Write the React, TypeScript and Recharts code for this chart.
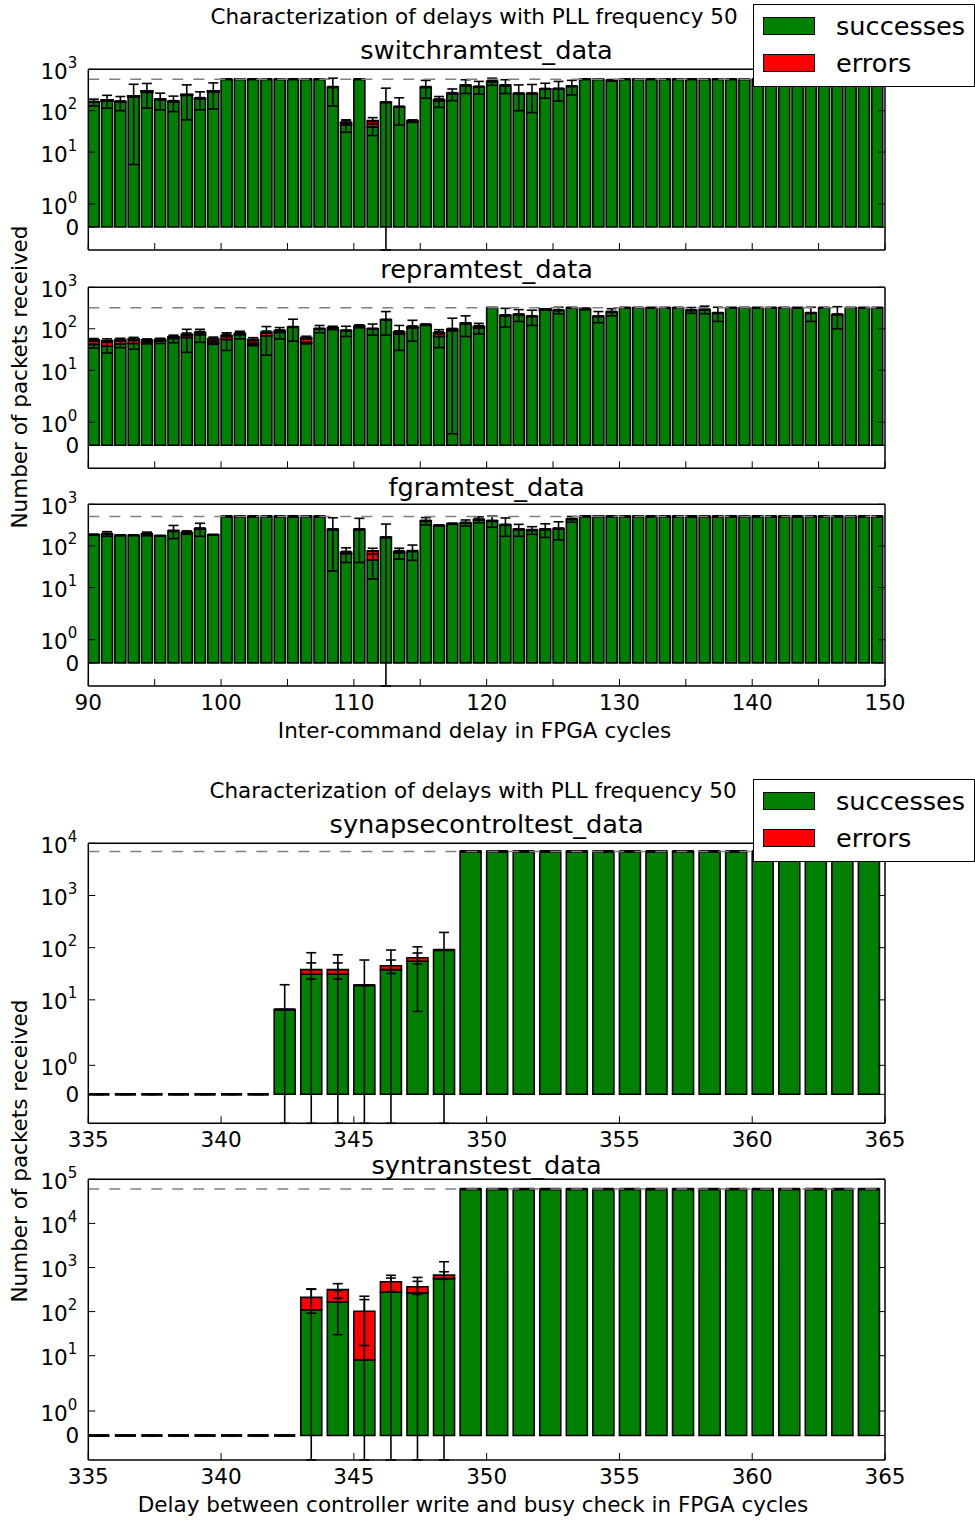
import React from 'react';
import { BarChart, Bar, XAxis, YAxis, ErrorBar, ReferenceLine, Legend } from 'recharts';

const FONT = '"DejaVu Sans", sans-serif';

// delays in FPGA cycles
const delaysTop = [
  90, 91, 92, 93, 94, 95, 96, 97, 98, 99,
  100, 101, 102, 103, 104, 105, 106, 107, 108, 109,
  110, 111, 112, 113, 114, 115, 116, 117, 118, 119,
  120, 121, 122, 123, 124, 125, 126, 127, 128, 129,
  130, 131, 132, 133, 134, 135, 136, 137, 138, 139,
  140, 141, 142, 143, 144, 145, 146, 147, 148, 149,
];
const delaysBottom = [
  335, 336, 337, 338, 339, 340, 341, 342, 343, 344,
  345, 346, 347, 348, 349, 350, 351, 352, 353, 354,
  355, 356, 357, 358, 359, 360, 361, 362, 363, 364,
];

// switchramtest_data
const switchSucc = [
  160, 175, 160, 220, 285, 185, 160, 240, 195, 290,
  576, 576, 576, 576, 576, 576, 576, 576, 370, 45,
  576, 40, 160, 125, 55, 370, 170, 255, 410, 380,
  510, 410, 260, 260, 330, 340, 390, 576, 576, 540,
  576, 576, 576, 576, 576, 576, 576, 576, 576, 576,
  576, 576, 576, 576, 576, 576, 576, 576, 576, 576,
];
const switchErr = [
  5, 4, 8, 3, 8, 6, 10, 3, 8, 4,
  0, 0, 0, 0, 0, 0, 0, 0, 0, 8,
  0, 18, 0, 0, 3, 0, 15, 12, 0, 0,
  0, 0, 0, 0, 10, 0, 0, 0, 0, 0,
  0, 0, 0, 0, 0, 0, 0, 0, 0, 0,
  0, 0, 0, 0, 0, 0, 0, 0, 0, 0,
];
const switchSuccStd = [
  30, 60, 60, 215, 170, 80, 65, 180, 90, 180,
  0, 0, 0, 0, 0, 0, 0, 0, 240, 15,
  0, 15, 190, 80, 3, 170, 50, 80, 150, 130,
  100, 150, 160, 170, 130, 170, 150, 0, 0, 25,
  0, 0, 0, 0, 0, 0, 0, 0, 0, 0,
  0, 0, 0, 0, 0, 0, 0, 0, 0, 0,
];
const switchErrStd = [
  3, 3, 4, 2, 4, 3, 5, 2, 4, 2,
  0, 0, 0, 0, 0, 0, 0, 0, 0, 5,
  0, 10, 0, 0, 2, 0, 8, 6, 0, 0,
  0, 0, 0, 0, 5, 0, 0, 0, 0, 0,
  0, 0, 0, 0, 0, 0, 0, 0, 0, 0,
  0, 0, 0, 0, 0, 0, 0, 0, 0, 0,
];

// repramtest_data
const repSucc = [
  42, 38, 43, 44, 48, 50, 58, 62, 72, 45,
  55, 72, 42, 68, 82, 110, 45, 100, 105, 90,
  115, 100, 165, 75, 105, 125, 65, 90, 135, 105,
  320, 210, 220, 200, 290, 280, 320, 300, 200, 255,
  320, 320, 320, 320, 320, 280, 290, 240, 320, 320,
  320, 320, 320, 320, 240, 320, 220, 320, 320, 320,
];
const repErr = [
  12, 14, 12, 13, 6, 6, 6, 12, 10, 13,
  14, 6, 14, 15, 8, 0, 16, 0, 0, 0,
  0, 0, 0, 10, 8, 0, 15, 8, 0, 10,
  0, 0, 0, 0, 5, 0, 0, 0, 0, 0,
  0, 0, 0, 0, 0, 0, 0, 0, 0, 0,
  0, 0, 0, 0, 0, 0, 0, 0, 0, 0,
];
const repSuccStd = [
  8, 12, 8, 12, 5, 6, 12, 35, 25, 3,
  25, 15, 3, 45, 25, 60, 2, 20, 10, 25,
  10, 30, 95, 45, 55, 5, 30, 89.5, 70, 30,
  0, 100, 70, 80, 10, 50, 0, 15, 60, 50,
  0, 0, 0, 0, 0, 45, 60, 90, 0, 0,
  0, 0, 0, 0, 90, 0, 120, 0, 0, 0,
];
const repErrStd = [
  4, 5, 4, 5, 3, 3, 3, 5, 4, 5,
  5, 3, 5, 5, 4, 0, 5, 0, 0, 0,
  0, 0, 0, 4, 4, 0, 5, 4, 0, 4,
  0, 0, 0, 0, 3, 0, 0, 0, 0, 0,
  0, 0, 0, 0, 0, 0, 0, 0, 0, 0,
  0, 0, 0, 0, 0, 0, 0, 0, 0, 0,
];

// fgramtest_data
const fgSucc = [
  185, 195, 180, 180, 195, 175, 230, 210, 260, 185,
  512, 512, 512, 512, 512, 512, 512, 512, 250, 65,
  250, 46, 160, 68, 75, 400, 310, 340, 360, 430,
  400, 320, 250, 240, 250, 260, 440, 512, 512, 512,
  512, 512, 512, 512, 512, 512, 512, 512, 512, 512,
  512, 512, 512, 512, 512, 512, 512, 512, 512, 512,
];
const fgErr = [
  0, 0, 0, 0, 0, 0, 0, 0, 0, 0,
  0, 0, 0, 0, 0, 0, 0, 0, 0, 6,
  0, 30, 0, 6, 0, 0, 0, 0, 0, 0,
  0, 0, 0, 0, 0, 0, 0, 0, 0, 0,
  0, 0, 0, 0, 0, 0, 0, 0, 0, 0,
  0, 0, 0, 0, 0, 0, 0, 0, 0, 0,
];
const fgSuccStd = [
  5, 25, 0, 0, 20, 0, 80, 20, 90, 0,
  0, 0, 0, 0, 0, 0, 0, 0, 225, 25,
  210, 30, 175, 20, 30, 80, 0, 10, 60, 70,
  120, 150, 80, 50, 90, 120, 70, 0, 0, 0,
  0, 0, 0, 0, 0, 0, 0, 0, 0, 0,
  0, 0, 0, 0, 0, 0, 0, 0, 0, 0,
];
const fgErrStd = [
  0, 0, 0, 0, 0, 0, 0, 0, 0, 0,
  0, 0, 0, 0, 0, 0, 0, 0, 0, 3,
  0, 12, 0, 3, 0, 0, 0, 0, 0, 0,
  0, 0, 0, 0, 0, 0, 0, 0, 0, 0,
  0, 0, 0, 0, 0, 0, 0, 0, 0, 0,
  0, 0, 0, 0, 0, 0, 0, 0, 0, 0,
];

// synapsecontroltest_data
const synSucc = [0, 0, 0, 0, 0, 0, 0, 6.5, 31, 31, 19, 38, 55, 90, 7000, 7000, 7000, 7000, 7000, 7000, 7000, 7000, 7000, 7000, 7000, 7000, 7000, 7000, 7000, 7000];
const synErr = [0, 0, 0, 0, 0, 0, 0, 0, 7, 7, 0, 7, 9, 0, 0, 0, 0, 0, 0, 0, 0, 0, 0, 0, 0, 0, 0, 0, 0, 0];
const synSuccStd = [0, 0, 0, 0, 0, 0, 0, 13, 49, 42, 39, 52, 49, 106, 0, 0, 0, 0, 0, 0, 0, 0, 0, 0, 0, 0, 0, 0, 0, 0];
const synErrStd = [0, 0, 0, 0, 0, 0, 0, 0, 13, 13, 0, 13, 15, 0, 0, 0, 0, 0, 0, 0, 0, 0, 0, 0, 0, 0, 0, 0, 0, 0];

// syntranstest_data
const transSucc = [0, 0, 0, 0, 0, 0, 0, 0, 110, 165, 8, 275, 265, 560, 60000, 60000, 60000, 60000, 60000, 60000, 60000, 60000, 60000, 60000, 60000, 60000, 60000, 60000, 60000, 60000];
const transErr = [0, 0, 0, 0, 0, 0, 0, 0, 100, 150, 94, 200, 100, 110, 0, 0, 0, 0, 0, 0, 0, 0, 0, 0, 0, 0, 0, 0, 0, 0];
const transSuccStd = [0, 0, 0, 0, 0, 0, 0, 0, 210, 135, 215, 300, 330, 790, 0, 0, 0, 0, 0, 0, 0, 0, 0, 0, 0, 0, 0, 0, 0, 0];
const transErrStd = [0, 0, 0, 0, 0, 0, 0, 0, 118, 115, 85, 190, 120, 130, 0, 0, 0, 0, 0, 0, 0, 0, 0, 0, 0, 0, 0, 0, 0, 0];

const xTicksTop = [90, 95, 100, 105, 110, 115, 120, 125, 130, 135, 140, 145, 150];
const xLabelsTop = [90, 100, 110, 120, 130, 140, 150];
const xTicksBottom = [335, 340, 345, 350, 355, 360, 365];

const yTicks3 = [0, 1, 10, 100, 1000];
const yTicks4 = [0, 1, 10, 100, 1000, 10000];
const yTicks5 = [0, 1, 10, 100, 1000, 10000, 100000];

const legendOrder = ['successes', 'errors'];

// matplotlib symlog, linthresh 2, linscale 1
const LINTHRESH = 2;
const LINSCALE = 1 / (1 - 1 / 10);
function symlog(v: number): number {
  const a = Math.abs(v);
  const t = a <= LINTHRESH ? (a / LINTHRESH) * LINSCALE : LINSCALE + Math.log10(a / LINTHRESH);
  return v < 0 ? -t : t;
}
const Y_MIN = symlog(-1);

function buildRows(delays: number[], succ: number[], err: number[], succStd: number[], errStd: number[]) {
  const low = (v: number) => Math.max(symlog(v), Y_MIN);
  return delays.map((d, i) => {
    const s = succ[i];
    const t = succ[i] + err[i];
    const ts = symlog(s);
    const tt = symlog(t);
    return {
      x: d + 0.4, // bars are edge aligned, 0.8 wide
      ok: ts,
      bad: tt - ts,
      okErr: [ts - low(s - succStd[i]), symlog(s + succStd[i]) - ts],
      badErr: [tt - low(t - errStd[i]), symlog(t + errStd[i]) - tt],
    };
  });
}

const BarShape = (p: any) => {
  const { x, y, width, height, fill } = p;
  if (x == null || y == null) return null;
  // empty bars collapse to their outline, which reads as a thick dash
  const sw = Math.abs(height) < 0.5 ? 2.6 : 1.6;
  return <path d={`M${x},${y}h${width}v${height}h${-width}Z`} fill={fill} stroke="#000" strokeWidth={sw} />;
};

const TICK_LEN = 7;
const TICK_FONT = 21.5;

const YTickLeft = (p: any) => {
  const { x, y, payload, raw } = p;
  const r = raw.find((v: number) => Math.abs(symlog(v) - payload.value) < 1e-6);
  const exp = r > 0 ? Math.round(Math.log10(r)) : null;
  return (
    <g>
      <line x1={x} x2={x + TICK_LEN} y1={y} y2={y} stroke="#000" strokeWidth={1} />
      {exp === null ? (
        <text x={x - 9} y={y + 7.8} textAnchor="end" fontFamily={FONT} fontSize={TICK_FONT} fill="#000">0</text>
      ) : (
        <text x={x - 11} y={y + 9.5} textAnchor="end" fontFamily={FONT} fontSize={TICK_FONT} fill="#000">
          10<tspan dy={-11} fontSize={15}>{exp}</tspan>
        </text>
      )}
    </g>
  );
};

const YTickRight = (p: any) => (
  <line x1={p.x} x2={p.x - TICK_LEN} y1={p.y} y2={p.y} stroke="#000" strokeWidth={1} />
);

const XTickTop = (p: any) => (
  <line x1={p.x} x2={p.x} y1={p.y} y2={p.y + TICK_LEN} stroke="#000" strokeWidth={1} />
);

const XTickBottom = (p: any) => {
  const { x, y, payload, labels } = p;
  return (
    <g>
      <line x1={x} x2={x} y1={y} y2={y - TICK_LEN} stroke="#000" strokeWidth={1} />
      {labels.includes(payload.value) && (
        <text x={x} y={y + 24} textAnchor="middle" fontFamily={FONT} fontSize={TICK_FONT} fill="#000">{payload.value}</text>
      )}
    </g>
  );
};

const LegendBox = ({ payload }: any) => {
  const items = [...(payload || [])].sort((a: any, b: any) => legendOrder.indexOf(a.value) - legendOrder.indexOf(b.value));
  return (
    <div style={{ width: 222, height: 83, border: '1.5px solid #000', background: '#fff', boxSizing: 'border-box', position: 'relative', fontFamily: FONT, fontSize: 25.6 }}>
      {items.map((item: any, i: number) => (
        <div key={item.value} style={{ position: 'absolute', left: 9, top: 12 + i * 37, display: 'flex', alignItems: 'center', height: 18 }}>
          <span style={{ display: 'inline-block', width: 52, height: 18, background: item.color, border: '1.5px solid #000', boxSizing: 'border-box' }} />
          <span style={{ marginLeft: 21, whiteSpace: 'nowrap', lineHeight: '18px' }}>{item.value}</span>
        </div>
      ))}
    </div>
  );
};

const frame = { stroke: '#000', strokeWidth: 1.5 };

type PanelProps = {
  top: number;
  height: number;
  plotTop: number;
  plotBottom: number;
  rows: any[];
  xDomain: [number, number];
  xTicks: number[];
  xLabels: number[];
  yTicks: number[];
  expected: number;
  legendTop?: number;
};

function Panel({ top, height, plotTop, plotBottom, rows, xDomain, xTicks, xLabels, yTicks, expected, legendTop }: PanelProps) {
  const yDomain = [Y_MIN, symlog(yTicks[yTicks.length - 1])];
  const yT = yTicks.map(symlog);
  // axes are 1px thick so that recharts still draws them
  return (
    <div style={{ position: 'absolute', left: 0, top }}>
      <BarChart
        width={975}
        height={height}
        data={rows}
        margin={{ top: plotTop - top - 1, bottom: height - (plotBottom - top) - 1, left: 87.3, right: 89 }}
        barCategoryGap="10%"
      >
        <XAxis dataKey="x" type="number" domain={xDomain} ticks={xTicks} allowDataOverflow interval={0}
          height={1} tickSize={0} tickMargin={0} tickLine={false} axisLine={frame}
          tick={(p: any) => <XTickBottom {...p} labels={xLabels} />} />
        <XAxis xAxisId="top" orientation="top" type="number" domain={xDomain} ticks={xTicks} allowDataOverflow interval={0}
          height={1} tickSize={0} tickMargin={0} tickLine={false} axisLine={frame}
          tick={(p: any) => <XTickTop {...p} />} />
        <YAxis type="number" domain={yDomain} ticks={yT} allowDataOverflow interval={0}
          width={1} tickSize={0} tickMargin={0} tickLine={false} axisLine={frame}
          tick={(p: any) => <YTickLeft {...p} raw={yTicks} />} />
        <YAxis yAxisId="right" orientation="right" type="number" domain={yDomain} ticks={yT} allowDataOverflow interval={0}
          width={1} tickSize={0} tickMargin={0} tickLine={false} axisLine={frame}
          tick={(p: any) => <YTickRight {...p} />} />
        <Bar dataKey="ok" name="successes" stackId="s" fill="#008000" shape={BarShape} isAnimationActive={false}>
          <ErrorBar dataKey="okErr" direction="y" width={5} stroke="#000" strokeWidth={1.6} isAnimationActive={false} />
        </Bar>
        <Bar dataKey="bad" name="errors" stackId="s" fill="#ff0000" shape={BarShape} isAnimationActive={false}>
          <ErrorBar dataKey="badErr" direction="y" width={5} stroke="#000" strokeWidth={1.6} isAnimationActive={false} />
        </Bar>
        <ReferenceLine y={symlog(expected)} stroke="#808080" strokeWidth={1.5} strokeDasharray="11 10" />
        {legendTop !== undefined && (
          <Legend layout="vertical" align="center" verticalAlign="middle" content={<LegendBox />}
            wrapperStyle={{ left: 753, top: legendTop - top, width: 222, height: 83 }} />
        )}
      </BarChart>
    </div>
  );
}

const Caption = ({ x, y, size, rotate, children }: any) => (
  <div style={{
    position: 'absolute', left: x, top: y, transform: `translate(-50%, -50%)${rotate ? ' rotate(-90deg)' : ''}`,
    fontFamily: FONT, fontSize: size, whiteSpace: 'nowrap', lineHeight: 1, color: '#000',
  }}>{children}</div>
);

export default function App() {
  const switchRows = buildRows(delaysTop, switchSucc, switchErr, switchSuccStd, switchErrStd);
  const repRows = buildRows(delaysTop, repSucc, repErr, repSuccStd, repErrStd);
  const fgRows = buildRows(delaysTop, fgSucc, fgErr, fgSuccStd, fgErrStd);
  const synRows = buildRows(delaysBottom, synSucc, synErr, synSuccStd, synErrStd);
  const transRows = buildRows(delaysBottom, transSucc, transErr, transSuccStd, transErrStd);

  return (
    <div style={{ position: 'absolute', left: 0, top: 0, width: 975, height: 1520, background: '#fff', overflow: 'hidden' }}>
      <Panel top={0} height={262} plotTop={69.3} plotBottom={250} rows={switchRows} xDomain={[90, 150]}
        xTicks={xTicksTop} xLabels={[]} yTicks={yTicks3} expected={576} legendTop={4} />
      <Panel top={262} height={218} plotTop={287.3} plotBottom={468.3} rows={repRows} xDomain={[90, 150]}
        xTicks={xTicksTop} xLabels={[]} yTicks={yTicks3} expected={320} />
      <Panel top={480} height={240} plotTop={504.3} plotBottom={686} rows={fgRows} xDomain={[90, 150]}
        xTicks={xTicksTop} xLabels={xLabelsTop} yTicks={yTicks3} expected={512} />
      <Panel top={760} height={400} plotTop={843.3} plotBottom={1123.3} rows={synRows} xDomain={[335, 365]}
        xTicks={xTicksBottom} xLabels={xTicksBottom} yTicks={yTicks4} expected={7000} legendTop={779} />
      <Panel top={1160} height={330} plotTop={1179.3} plotBottom={1460} rows={transRows} xDomain={[335, 365]}
        xTicks={xTicksBottom} xLabels={xTicksBottom} yTicks={yTicks5} expected={60000} />

      <Caption x={474} y={17} size={21.5}>Characterization of delays with PLL frequency 50</Caption>
      <Caption x={486.6} y={51} size={25.6}>switchramtest_data</Caption>
      <Caption x={486.6} y={270} size={25.6}>repramtest_data</Caption>
      <Caption x={486.6} y={488} size={25.6}>fgramtest_data</Caption>
      <Caption x={474.5} y={731} size={21.5}>Inter-command delay in FPGA cycles</Caption>
      <Caption x={20} y={377} size={21.5} rotate>Number of packets received</Caption>

      <Caption x={473} y={791} size={21.5}>Characterization of delays with PLL frequency 50</Caption>
      <Caption x={486.6} y={825} size={25.6}>synapsecontroltest_data</Caption>
      <Caption x={486.6} y={1165.5} size={25.6}>syntranstest_data</Caption>
      <Caption x={473} y={1505} size={21.5}>Delay between controller write and busy check in FPGA cycles</Caption>
      <Caption x={20} y={1151} size={21.5} rotate>Number of packets received</Caption>
    </div>
  );
}
